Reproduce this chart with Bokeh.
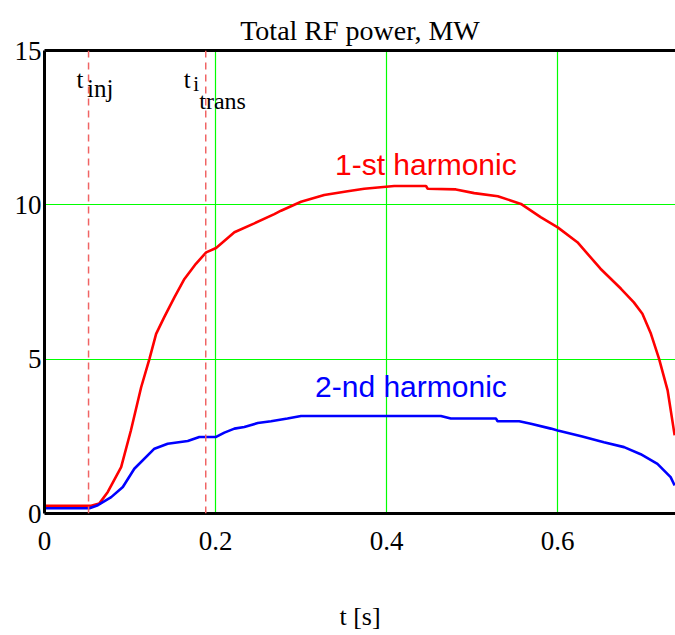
from bokeh.plotting import figure
from bokeh.models import Span, Label, LinearAxis, FixedTicker, Range1d
from bokeh.embed import file_html
from bokeh.resources import INLINE

# ---- data ----
t_first = [0.0, 0.0515, 0.0546, 0.064, 0.074, 0.0896, 0.101, 0.113, 0.1227, 0.1305,
           0.140, 0.152, 0.1636, 0.177, 0.189, 0.2006, 0.222, 0.2453, 0.2687, 0.2765,
           0.2999, 0.327, 0.3544, 0.3738, 0.4089, 0.446, 0.448, 0.481, 0.5024, 0.530,
           0.557, 0.580, 0.600, 0.623, 0.650, 0.674, 0.689, 0.699, 0.709, 0.7185,
           0.7285, 0.7367]
p_first = [0.25, 0.25, 0.25, 0.32, 0.70, 1.50, 2.69, 4.09, 5.01, 5.82,
           6.36, 7.01, 7.60, 8.09, 8.46, 8.60, 9.11, 9.40, 9.70, 9.81,
           10.10, 10.32, 10.44, 10.52, 10.61, 10.61, 10.52, 10.50, 10.38, 10.28,
           10.03, 9.60, 9.27, 8.79, 7.93, 7.28, 6.84, 6.47, 5.82, 5.01,
           3.99, 2.53]

t_second = [0.0, 0.0526, 0.0624, 0.078, 0.0916, 0.105, 0.1285, 0.144, 0.1675, 0.181,
            0.2006, 0.2103, 0.222, 0.2336, 0.2493, 0.2648, 0.284, 0.2999, 0.4634, 0.475,
            0.5277, 0.5297, 0.555, 0.5686, 0.592, 0.600, 0.6276, 0.654, 0.6776, 0.697,
            0.7166, 0.732, 0.7367]
p_second = [0.17, 0.17, 0.27, 0.53, 0.86, 1.45, 2.10, 2.26, 2.35, 2.48,
            2.48, 2.62, 2.75, 2.80, 2.93, 2.99, 3.08, 3.16, 3.16, 3.08,
            3.08, 2.99, 2.99, 2.91, 2.75, 2.69, 2.50, 2.31, 2.15, 1.92,
            1.61, 1.18, 0.91]

t_inj = 0.0515
t_trans = 0.1885

x_ticks = [0, 0.2, 0.4, 0.6]
y_ticks = [0, 5, 10, 15]

title_text = "Total RF power, MW"
x_label = "t [s]"
label_first = "1-st harmonic"
label_second = "2-nd harmonic"

SERIF = "Liberation Serif"
SANS = "Liberation Sans"
GREEN = "#00ff00"

p = figure(width=675, height=635, output_backend="svg", toolbar_location=None,
           x_range=Range1d(0, 0.7377), y_range=Range1d(0, 15),
           min_border_left=44, min_border_right=0, min_border_top=50, min_border_bottom=122,
           x_axis_location=None, y_axis_location=None)
p.outline_line_color = None
p.background_fill_color = "white"
p.border_fill_color = "white"

p.title.text = title_text
p.title.text_font = SERIF
p.title.text_font_size = "28px"
p.title.text_font_style = "normal"
p.title.align = "center"
p.title.text_color = "black"

xaxis = LinearAxis(ticker=FixedTicker(ticks=x_ticks))
yaxis = LinearAxis(ticker=FixedTicker(ticks=y_ticks))
for ax in (xaxis, yaxis):
    ax.axis_line_color = "black"
    ax.axis_line_width = 3
    ax.major_tick_line_color = None
    ax.minor_tick_line_color = None
    ax.major_label_text_font = SERIF
    ax.major_label_text_font_size = "27px"
    ax.major_label_text_color = "black"
xaxis.major_label_standoff = 12
yaxis.major_label_standoff = -3
xaxis.axis_label = x_label
xaxis.axis_label_text_font = SERIF
xaxis.axis_label_text_font_size = "26px"
xaxis.axis_label_text_font_style = "normal"
xaxis.axis_label_text_color = "black"
xaxis.axis_label_standoff = 49
p.add_layout(xaxis, "below")
p.add_layout(yaxis, "left")

topaxis = LinearAxis(ticker=FixedTicker(ticks=[]))
topaxis.axis_line_color = "black"
topaxis.axis_line_width = 3
topaxis.major_tick_line_color = None
topaxis.minor_tick_line_color = None
topaxis.major_tick_out = 11
topaxis.major_label_text_font_size = "0px"
p.add_layout(topaxis, "above")

p.xgrid.ticker = FixedTicker(ticks=x_ticks)
p.ygrid.ticker = FixedTicker(ticks=y_ticks)
p.xgrid.grid_line_color = GREEN
p.ygrid.grid_line_color = GREEN
p.xgrid.grid_line_width = 1.2
p.ygrid.grid_line_width = 1.2

for loc in (t_inj, t_trans):
    p.add_layout(Span(location=loc, dimension="height", line_color="#f06464",
                      line_width=1.5, line_dash="7 5"))

p.line(t_first, p_first, line_color="#ff0000", line_width=2.6)
p.line(t_second, p_second, line_color="#0000ff", line_width=2.6)

def add_label(x, y, text, font, size, color="black", x_offset=0, align="left"):
    p.add_layout(Label(x=x, y=y, text=text, text_font=font, text_font_size=size,
                       text_color=color, x_offset=x_offset, text_baseline="alphabetic",
                       text_align=align))

add_label(t_inj, 14.05, "t", SERIF, "25px", x_offset=-12)
add_label(t_inj, 13.76, "inj", SERIF, "25px", x_offset=-1.5)
add_label(t_trans, 14.05, "t", SERIF, "25px", x_offset=-22)
add_label(t_trans, 13.92, "i", SERIF, "21px", x_offset=-12.5)
add_label(t_trans, 13.37, "trans", SERIF, "24px", x_offset=-6.5)

add_label(0.3396, 11.32, label_first, SANS, "30px", color="#ff0000")
add_label(0.3163, 4.13, label_second, SANS, "30px", color="#0000ff")

open("out.html", "w").write(file_html(p, INLINE))
